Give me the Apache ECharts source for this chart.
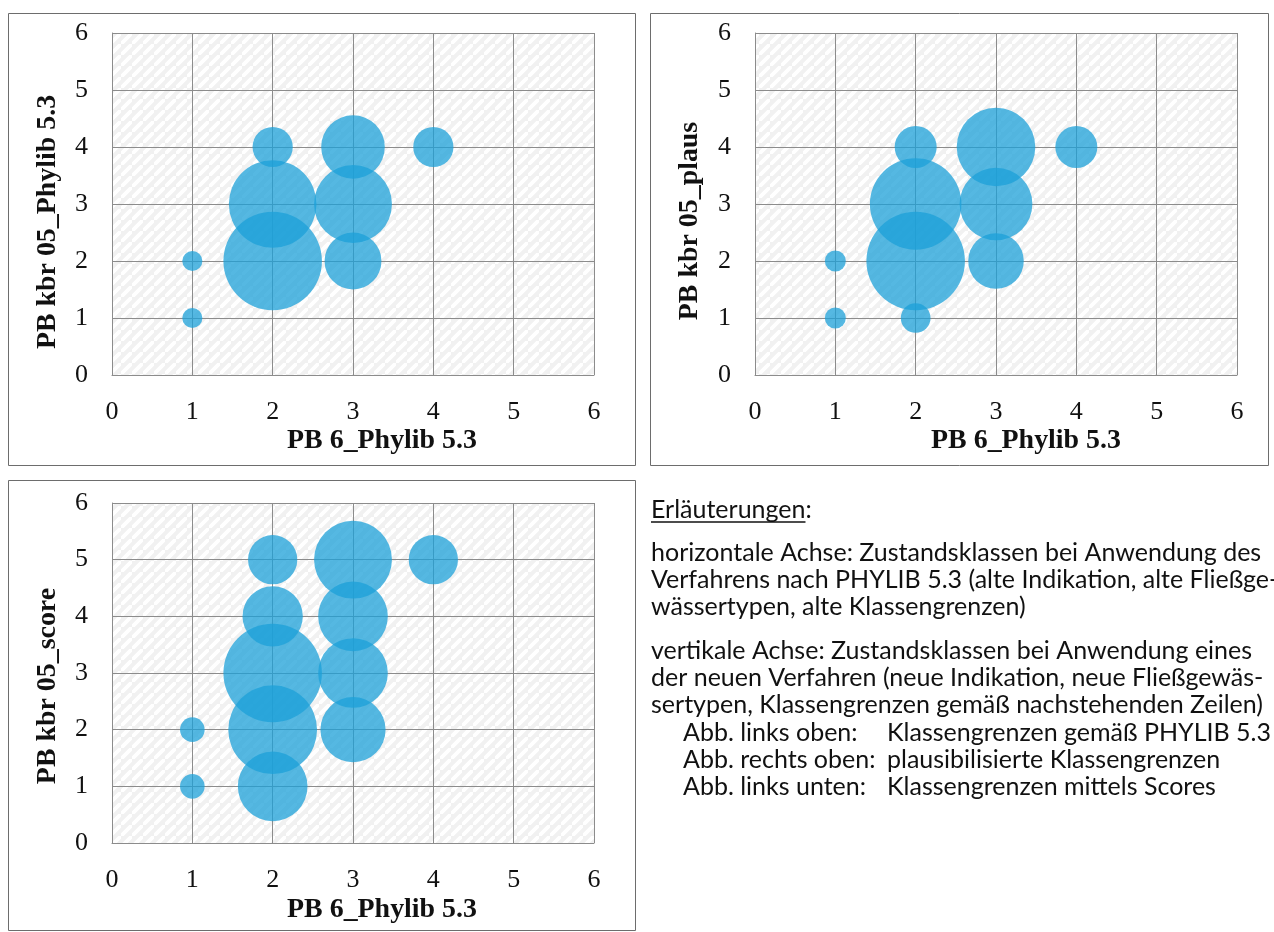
<!DOCTYPE html>
<html>
<head>
<meta charset="utf-8">
<script src="https://cdn.jsdelivr.net/npm/echarts@6/dist/echarts.min.js"></script>
<style>
html,body{margin:0;padding:0;background:#fff;}
#main{width:1274px;height:932px;}
</style>
</head>
<body>
<div id="main"></div>
<script>
// ---- data ----
const axisTicks = [0, 1, 2, 3, 4, 5, 6];
const xAxisTitle = 'PB 6_Phylib 5.3';
const yTitleTopLeft = 'PB kbr 05_Phylib 5.3';
const yTitleTopRight = 'PB kbr 05_plaus';
const yTitleBottomLeft = 'PB kbr 05_score';
// [x class, y class, number of sites]
const bubblesTopLeft = [[1,1,1],[1,2,1],[2,2,24],[2,3,19],[2,4,4],[3,2,8],[3,3,15],[3,4,10],[4,4,4]];
const bubblesTopRight = [[1,1,1],[1,2,1],[2,1,2],[2,2,22],[2,3,19],[2,4,4],[3,2,7],[3,3,12],[3,4,14],[4,4,4]];
const bubblesBottomLeft = [[1,1,1],[1,2,1],[2,1,8],[2,2,13],[2,3,16],[2,4,6],[2,5,4],[3,2,7],[3,3,8],[3,4,8],[3,5,10],[4,5,4]];
const noteHeading = 'Erläuterungen';
const noteLines = [
  'horizontale Achse: Zustandsklassen bei Anwendung des',
  'Verfahrens nach PHYLIB 5.3 (alte Indikation, alte Fließge-',
  'wässertypen, alte Klassengrenzen)',
  'vertikale Achse: Zustandsklassen bei Anwendung eines',
  'der neuen Verfahren (neue Indikation, neue Fließgewäs-',
  'sertypen, Klassengrenzen gemäß nachstehenden Zeilen)'
];
const noteKeys = ['Abb. links oben:', 'Abb. rechts oben:', 'Abb. links unten:'];
const noteValues = ['Klassengrenzen gemäß PHYLIB 5.3', 'plausibilisierte Klassengrenzen', 'Klassengrenzen mittels Scores'];

// ---- styling ----
const BUBBLE_MAX = 98.5;
const SERIF = '"Liberation Serif", serif';
const SANS = 'Lato, "Open Sans", sans-serif';

function measure(text, font) {
  const c = document.createElement('canvas').getContext('2d');
  c.font = font; return c.measureText(text).width;
}
const titleSize = Math.round(20 * 190 / measure(xAxisTitle, 'bold 20px ' + SERIF) * 10) / 10;
const noteSize = Math.round(20 * 611 / measure(noteLines[0], '20px ' + SANS) * 10) / 10;

// hatch pattern
const T = 11;
const tile = document.createElement('canvas');
tile.width = T; tile.height = T;
(function(){
  const g = tile.getContext('2d');
  g.fillStyle = '#f1f1f1'; g.fillRect(0,0,T,T);
  g.strokeStyle = '#ffffff'; g.lineWidth = 3.8;
  g.beginPath();
  g.moveTo(-2,T+2); g.lineTo(T+2,-2);
  g.moveTo(-T-2,2); g.lineTo(2,-T-2);
  g.moveTo(T-2,2*T+2); g.lineTo(2*T+2,T-2);
  g.stroke();
})();
const hatch = { image: tile, repeat: 'repeat' };

const grids = [
  { left: 112, top: 33, width: 482, height: 342 },
  { left: 755, top: 33, width: 482, height: 342 },
  { left: 112, top: 503, width: 482, height: 340 }
];
const datasets = [bubblesTopLeft, bubblesTopRight, bubblesBottomLeft];

function axis(gi) {
  return {
    type: 'value', gridIndex: gi, min: axisTicks[0], max: axisTicks[axisTicks.length-1], interval: 1,
    axisLine: { show: true, lineStyle: { color: '#8c8c8c', width: 1 } },
    axisTick: { show: false },
    splitLine: { show: true, lineStyle: { color: '#8c8c8c', width: 1 } },
    axisLabel: { margin: 24, fontFamily: SERIF, fontSize: 26, color: '#111' }
  };
}

const option = {
  backgroundColor: '#fff',
  animation: false,
  grid: grids.map(g => Object.assign({ show: true, borderWidth: 0, backgroundColor: hatch, containLabel: false }, g)),
  xAxis: grids.map((g, i) => axis(i)),
  yAxis: grids.map((g, i) => axis(i)),
  series: datasets.map((d, i) => {
    const vmax = Math.max(...d.map(p => p[2]));
    return {
      type: 'scatter', xAxisIndex: i, yAxisIndex: i,
      data: d,
      symbol: 'circle',
      symbolSize: v => BUBBLE_MAX * Math.sqrt(v[2] / vmax),
      itemStyle: { color: '#1ca0d8', opacity: 0.75 },
      emphasis: { disabled: true }
    };
  }),
  graphic: []
};

const G = option.graphic;
// chart frames
[[8.5,13.5,627,452],[650.5,13.5,618,452],[8.5,480.5,627,450]].forEach(r => {
  G.push({ type: 'rect', shape: { x: r[0], y: r[1], width: r[2], height: r[3] }, style: { fill: null, stroke: '#6d6d6d', lineWidth: 1 }, z: 0, silent: true });
});
// axis titles
const tf = 'bold ' + titleSize + 'px ' + SERIF;
[[382, 441], [1026, 441], [382, 910]].forEach(p => {
  G.push({ type: 'text', x: p[0], y: p[1], style: { text: xAxisTitle, font: tf, fill: '#111', align: 'center', verticalAlign: 'middle' }, silent: true });
});
[[48, 222, yTitleTopLeft], [690, 221, yTitleTopRight], [48, 686, yTitleBottomLeft]].forEach(p => {
  G.push({ type: 'text', x: p[0], y: p[1], rotation: Math.PI / 2, style: { text: p[2], font: tf, fill: '#111', align: 'center', verticalAlign: 'middle' }, silent: true });
});
// notes
const nf = noteSize + 'px ' + SANS;
G.push({ type: 'text', x: 651, y: 510, style: { text: noteHeading + ':', font: nf, fill: '#111', verticalAlign: 'middle' }, silent: true });
const hw = measure(noteHeading, nf);
G.push({ type: 'line', shape: { x1: 651, y1: 522, x2: 651 + hw, y2: 522 }, style: { stroke: '#111', lineWidth: 1.3 }, silent: true });
const lineYs = [553, 580, 607, 651, 678, 705];
noteLines.forEach((t, i) => {
  G.push({ type: 'text', x: 651, y: lineYs[i], style: { text: t, font: nf, fill: '#111', verticalAlign: 'middle' }, silent: true });
});
const keyYs = [733, 760, 787];
noteKeys.forEach((t, i) => {
  G.push({ type: 'text', x: 683, y: keyYs[i], style: { text: t, font: nf, fill: '#111', verticalAlign: 'middle' }, silent: true });
  G.push({ type: 'text', x: 887, y: keyYs[i], style: { text: noteValues[i], font: nf, fill: '#111', verticalAlign: 'middle' }, silent: true });
});

const chart = echarts.init(document.getElementById('main'), null, { renderer: 'canvas' });
chart.setOption(option);
</script>
</body>
</html>
